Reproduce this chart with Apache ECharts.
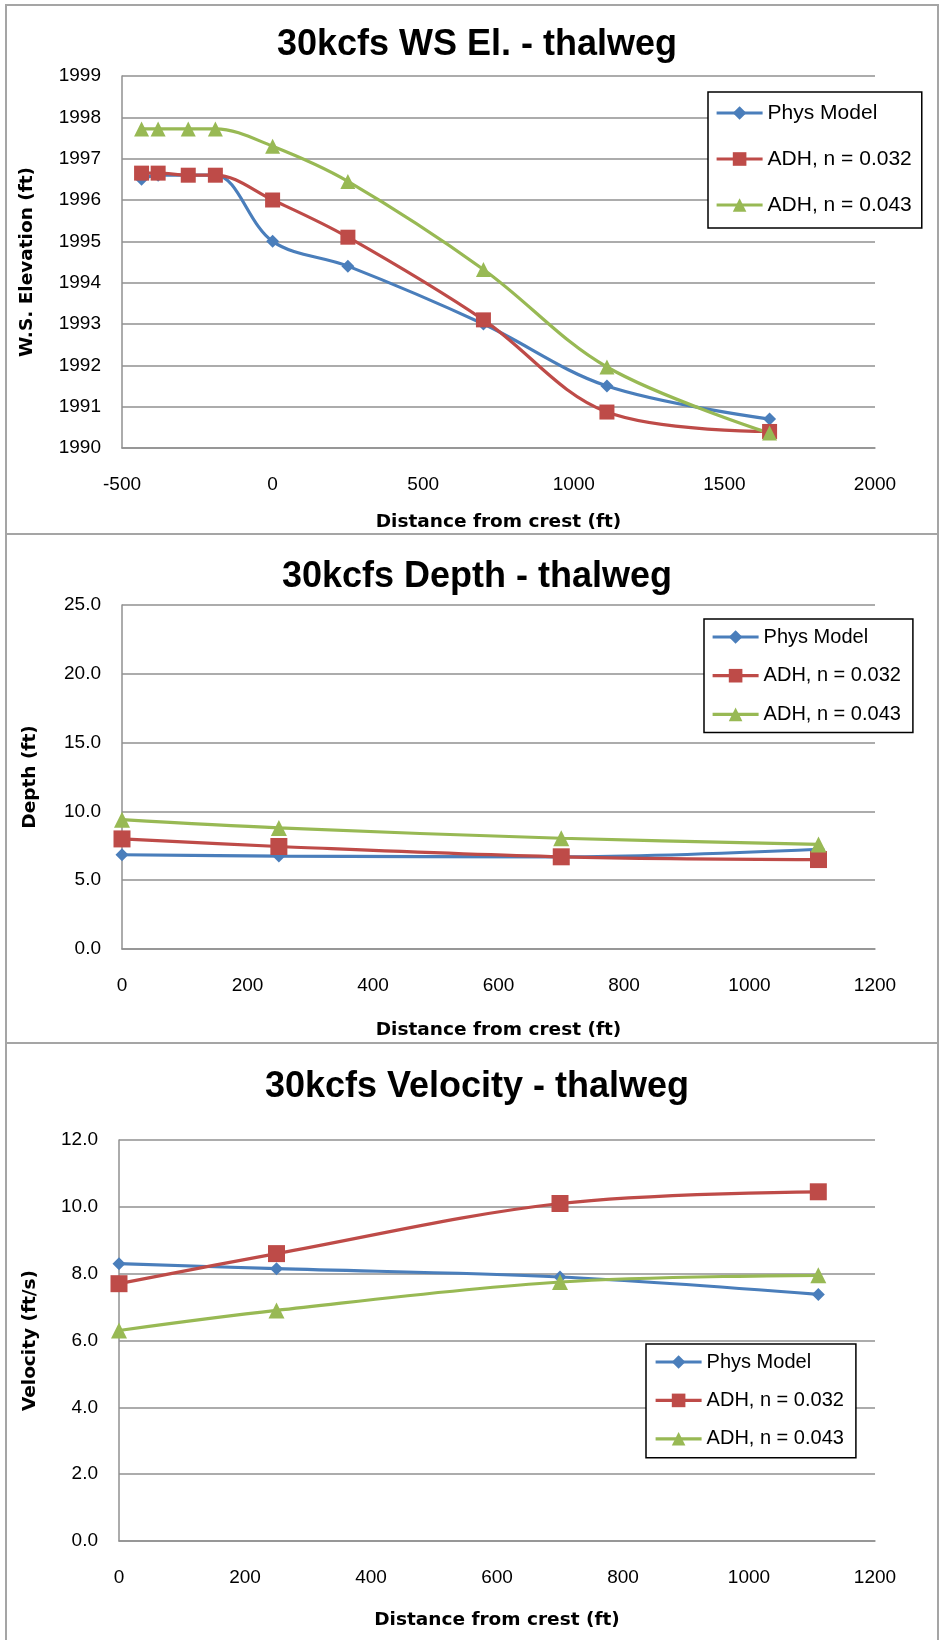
<!DOCTYPE html>
<html>
<head>
<meta charset="UTF-8">
<title>30kcfs thalweg</title>
<script src="https://cdn.jsdelivr.net/npm/echarts@6/dist/echarts.min.js"></script>
<style>
html,body{margin:0;padding:0;background:#fff;}
#main{width:940px;height:1640px;}
</style>
</head>
<body>
<div id="main"></div>
<script>
// values
var names   = ['Phys Model', 'ADH, n = 0.032', 'ADH, n = 0.043'];

var wsDist  = [-435, -380, -280, -190, 0, 250, 700, 1110, 1650];
var wsPhys  = [1996.5, 1996.6, 1996.6, 1996.6, 1995.0, 1994.4, 1993.0, 1991.5, 1990.7];
var wsN032  = [1996.65, 1996.65, 1996.6, 1996.6, 1996.0, 1995.1, 1993.1, 1990.87, 1990.4];
var wsN043  = [1997.72, 1997.72, 1997.72, 1997.72, 1997.3, 1996.45, 1994.32, 1991.96, 1990.36];

var depDist = [0, 250, 700, 1110];
var depPhys = [6.85, 6.75, 6.7, 7.25];
var depN032 = [8.0, 7.45, 6.7, 6.5];
var depN043 = [9.4, 8.8, 8.05, 7.6];

var velDist = [0, 250, 700, 1110];
var velPhys = [8.3, 8.15, 7.9, 7.38];
var velN032 = [7.7, 8.6, 10.1, 10.45];
var velN043 = [6.3, 6.9, 7.75, 7.95];

var colors  = ['#4a7ebb', '#be4b48', '#98b954'];
var symbols = ['diamond', 'rect', 'triangle'];
var gridCol = '#909090';

var chart = echarts.init(document.getElementById('main'));

function pairs(xs, ys){
    return xs.map(function(x, i){ return [x, ys[i]]; });
}

function lines(idx, xs, ysList, sizes){
    return ysList.map(function(ys, k){
        return {
            name: names[k],
            type: 'line',
            xAxisIndex: idx,
            yAxisIndex: idx,
            smooth: 0.35,
            data: pairs(xs, ys),
            symbol: symbols[k],
            symbolSize: sizes[k],
            lineStyle: {color: colors[k], width: 3.2},
            itemStyle: {color: colors[k], borderWidth: 0}
        };
    });
}

function xAxis(idx, min, max, step, gap){
    return {
        type: 'value', gridIndex: idx, min: min, max: max, interval: step,
        name: 'Distance from crest (ft)', nameLocation: 'middle', nameGap: gap,
        nameTextStyle: {fontFamily: 'DejaVu Sans', fontWeight: 'bold', fontSize: 18.5, color: '#000'},
        axisLine: {onZero: false, lineStyle: {color: gridCol, width: 1.5}},
        axisTick: {show: false},
        splitLine: {show: false},
        axisLabel: {
            fontFamily: 'Liberation Sans', fontSize: 19, color: '#000', margin: 27,
            formatter: function(v){ return String(v); }
        }
    };
}

function yAxis(idx, min, max, step, title, gap, dec){
    return {
        type: 'value', gridIndex: idx, min: min, max: max, interval: step,
        name: title, nameLocation: 'middle', nameGap: gap,
        nameTextStyle: {fontFamily: 'DejaVu Sans', fontWeight: 'bold', fontSize: 18.5, color: '#000'},
        axisLine: {show: true, onZero: false, lineStyle: {color: gridCol, width: 1.5}},
        axisTick: {show: false},
        splitLine: {lineStyle: {color: gridCol, width: 1.5}},
        axisLabel: {
            fontFamily: 'Liberation Sans', fontSize: 19, color: '#000', margin: 21,
            formatter: function(v){ return dec ? v.toFixed(1) : String(v); }
        }
    };
}

function legend(left, top, pad, gap, size, lh){
    return {
        data: names, orient: 'vertical', left: left, top: top,
        padding: pad, itemGap: gap, itemWidth: 46, itemHeight: 17,
        borderColor: '#000', borderWidth: 1.5, backgroundColor: '#fff',
        lineStyle: {width: 3.2},
        textStyle: {fontFamily: 'Liberation Sans', fontSize: size, lineHeight: lh, color: '#000'}
    };
}

function title(text, top){
    return {
        text: text, left: 477, top: top, textAlign: 'center', padding: 0,
        textStyle: {fontFamily: 'Liberation Sans', fontWeight: 'bold', fontSize: 36, color: '#000'}
    };
}

var frame = {fill: 'none', stroke: '#a5a5a5', lineWidth: 2};

var option = {
    animation: false,
    backgroundColor: '#fff',
    title: [
        title('30kcfs WS El. - thalweg', 27),
        title('30kcfs Depth - thalweg', 559),
        title('30kcfs Velocity - thalweg', 1069)
    ],
    legend: [
        legend(708, 92, [10, 10, 12, 7], 24, 21, 22),
        legend(704, 619, [8, 12, 8, 7], 18.7, 20, 20),
        legend(646, 1344, [8, 12, 9, 8], 18.4, 20, 20)
    ],
    grid: [
        {left: 122, top: 76, width: 753, height: 372},
        {left: 122, top: 605, width: 753, height: 344},
        {left: 119, top: 1140, width: 756, height: 401}
    ],
    xAxis: [
        xAxis(0, -500, 2000, 500, 65),
        xAxis(1, 0, 1200, 200, 72),
        xAxis(2, 0, 1200, 200, 70)
    ],
    yAxis: [
        yAxis(0, 1990, 1999, 1, 'W.S. Elevation (ft)', 85, false),
        yAxis(1, 0, 25, 5, 'Depth (ft)', 82, true),
        yAxis(2, 0, 12, 2, 'Velocity (ft/s)', 79, true)
    ],
    series: []
        .concat(lines(0, wsDist, [wsPhys, wsN032, wsN043], [13, 15, 15]))
        .concat(lines(1, depDist, [depPhys, depN032, depN043], [13, 17, 16]))
        .concat(lines(2, velDist, [velPhys, velN032, velN043], [13, 17, 16])),
    graphic: [
        {type: 'rect', silent: true, shape: {x: 6, y: 5, width: 932, height: 529}, style: frame},
        {type: 'rect', silent: true, shape: {x: 6, y: 534, width: 932, height: 509}, style: frame},
        {type: 'rect', silent: true, shape: {x: 6, y: 1043, width: 932, height: 620}, style: frame}
    ]
};

chart.setOption(option);
</script>
</body>
</html>
